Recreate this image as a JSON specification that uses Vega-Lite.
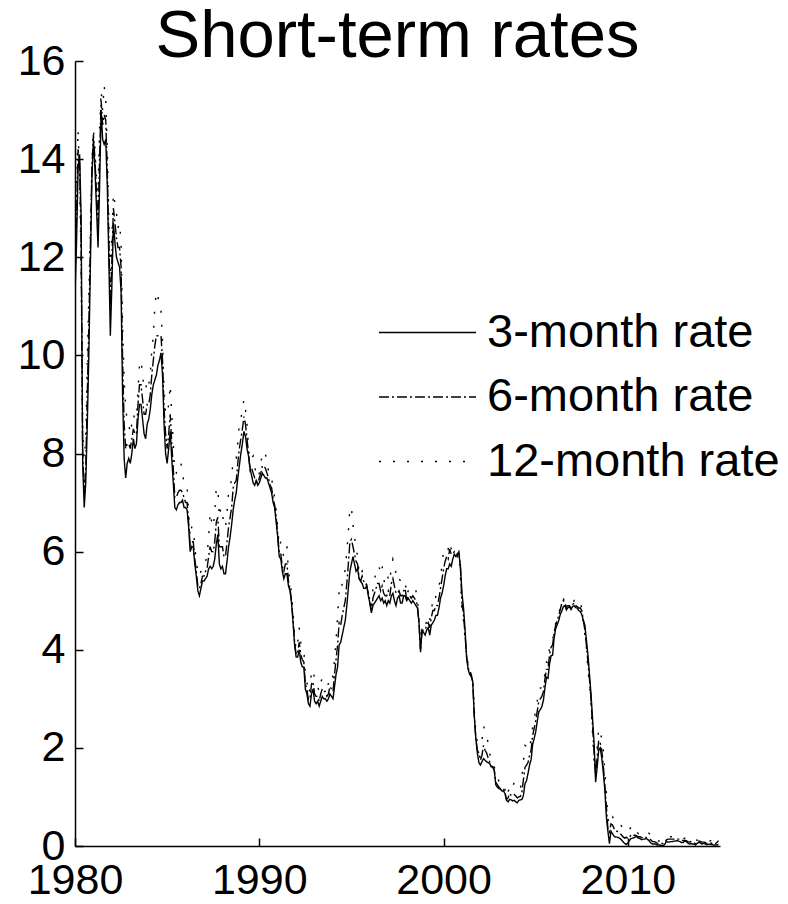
{
  "$schema": "https://vega.github.io/schema/vega-lite/v6.json",
  "width": 645,
  "height": 785,
  "autosize": {"type": "none"},
  "padding": {"left": 75, "top": 61, "right": 68, "bottom": 58},
  "background": "white",
  "title": {"text": "Short-term rates", "font": "Liberation Sans", "fontSize": 67, "fontWeight": "normal", "color": "black", "anchor": "middle", "frame": "group", "offset": -31},
  "config": {
    "view": {"stroke": null},
    "axis": {"domainColor": "black", "domainWidth": 1.5, "tickColor": "black", "tickWidth": 1.5, "tickSize": -8, "grid": false, "labelFont": "Liberation Sans", "labelFontSize": 43, "labelColor": "black", "title": null, "labelFlush": false, "labelOverlap": false}
  },
  "data": {"values": [
{"t":1980.0,"m3":11.2,"m6":11.5,"m12":11.8},{"t":1980.083,"m3":12.3,"m6":12.8,"m12":13.3},{"t":1980.167,"m3":13.8,"m6":14.2,"m12":14.6},{"t":1980.25,"m3":14.1,"m6":13.9,"m12":13.6},{"t":1980.333,"m3":12.8,"m6":12.3,"m12":11.8},{"t":1980.417,"m3":7.8,"m6":8.0,"m12":8.4},{"t":1980.5,"m3":6.9,"m6":7.2,"m12":7.9},{"t":1980.583,"m3":7.4,"m6":7.7,"m12":8.3},{"t":1980.667,"m3":8.6,"m6":9.2,"m12":9.9},{"t":1980.75,"m3":10.0,"m6":10.6,"m12":11.2},{"t":1980.833,"m3":11.8,"m6":12.2,"m12":12.6},{"t":1980.917,"m3":13.6,"m6":13.8,"m12":13.9},
{"t":1981.0,"m3":14.4,"m6":14.5,"m12":14.6},{"t":1981.083,"m3":13.8,"m6":14.0,"m12":14.2},{"t":1981.167,"m3":13.0,"m6":13.3,"m12":13.6},{"t":1981.25,"m3":12.2,"m6":12.7,"m12":13.3},{"t":1981.333,"m3":13.4,"m6":14.0,"m12":14.6},{"t":1981.417,"m3":15.0,"m6":15.2,"m12":15.4},{"t":1981.5,"m3":14.4,"m6":14.7,"m12":15.0},{"t":1981.583,"m3":14.3,"m6":14.9,"m12":15.5},{"t":1981.667,"m3":14.4,"m6":14.8,"m12":15.2},{"t":1981.75,"m3":13.5,"m6":13.8,"m12":14.2},{"t":1981.833,"m3":12.0,"m6":12.4,"m12":12.8},{"t":1981.917,"m3":10.4,"m6":11.0,"m12":11.6},
{"t":1982.0,"m3":11.4,"m6":11.9,"m12":12.4},{"t":1982.083,"m3":12.7,"m6":13.0,"m12":13.3},{"t":1982.167,"m3":12.3,"m6":12.7,"m12":13.1},{"t":1982.25,"m3":12.0,"m6":12.4,"m12":12.9},{"t":1982.333,"m3":11.9,"m6":12.2,"m12":12.6},{"t":1982.417,"m3":11.8,"m6":12.2,"m12":12.7},{"t":1982.5,"m3":11.3,"m6":11.8,"m12":12.3},{"t":1982.583,"m3":9.2,"m6":9.9,"m12":10.6},{"t":1982.667,"m3":7.9,"m6":8.6,"m12":9.5},{"t":1982.75,"m3":7.5,"m6":8.1,"m12":8.9},{"t":1982.833,"m3":7.8,"m6":8.2,"m12":8.7},{"t":1982.917,"m3":7.9,"m6":8.2,"m12":8.6},
{"t":1983.0,"m3":7.8,"m6":8.1,"m12":8.4},{"t":1983.083,"m3":8.0,"m6":8.3,"m12":8.6},{"t":1983.167,"m3":8.3,"m6":8.5,"m12":8.8},{"t":1983.25,"m3":8.1,"m6":8.4,"m12":8.7},{"t":1983.333,"m3":8.2,"m6":8.4,"m12":8.7},{"t":1983.417,"m3":8.7,"m6":9.0,"m12":9.3},{"t":1983.5,"m3":9.0,"m6":9.4,"m12":9.8},{"t":1983.583,"m3":9.0,"m6":9.4,"m12":9.9},{"t":1983.667,"m3":8.7,"m6":9.1,"m12":9.6},{"t":1983.75,"m3":8.4,"m6":8.8,"m12":9.3},{"t":1983.833,"m3":8.3,"m6":8.8,"m12":9.3},{"t":1983.917,"m3":8.6,"m6":9.0,"m12":9.5},
{"t":1984.0,"m3":8.7,"m6":9.0,"m12":9.4},{"t":1984.083,"m3":8.9,"m6":9.2,"m12":9.6},{"t":1984.167,"m3":9.2,"m6":9.6,"m12":10.1},{"t":1984.25,"m3":9.4,"m6":9.9,"m12":10.4},{"t":1984.333,"m3":9.5,"m6":10.2,"m12":11.0},{"t":1984.417,"m3":9.6,"m6":10.4,"m12":11.3},{"t":1984.5,"m3":9.8,"m6":10.4,"m12":11.2},{"t":1984.583,"m3":9.9,"m6":10.4,"m12":11.0},{"t":1984.667,"m3":10.05,"m6":10.4,"m12":10.9},{"t":1984.75,"m3":9.6,"m6":9.9,"m12":10.3},{"t":1984.833,"m3":8.6,"m6":8.9,"m12":9.3},{"t":1984.917,"m3":8.0,"m6":8.4,"m12":8.8},
{"t":1985.0,"m3":7.8,"m6":8.1,"m12":8.8},{"t":1985.083,"m3":8.1,"m6":8.4,"m12":9.0},{"t":1985.167,"m3":8.45,"m6":8.8,"m12":9.4},{"t":1985.25,"m3":7.9,"m6":8.2,"m12":8.8},{"t":1985.333,"m3":7.4,"m6":7.7,"m12":8.2},{"t":1985.417,"m3":6.9,"m6":7.1,"m12":7.6},{"t":1985.5,"m3":6.85,"m6":7.1,"m12":7.6},{"t":1985.583,"m3":6.95,"m6":7.2,"m12":7.8},{"t":1985.667,"m3":7.0,"m6":7.25,"m12":7.8},{"t":1985.75,"m3":7.0,"m6":7.25,"m12":7.8},{"t":1985.833,"m3":7.05,"m6":7.2,"m12":7.6},{"t":1985.917,"m3":6.9,"m6":7.1,"m12":7.4},
{"t":1986.0,"m3":6.9,"m6":7.0,"m12":7.4},{"t":1986.083,"m3":6.85,"m6":7.0,"m12":7.3},{"t":1986.167,"m3":6.5,"m6":6.6,"m12":6.8},{"t":1986.25,"m3":6.0,"m6":6.1,"m12":6.3},{"t":1986.333,"m3":6.1,"m6":6.2,"m12":6.5},{"t":1986.417,"m3":6.1,"m6":6.2,"m12":6.5},{"t":1986.5,"m3":5.75,"m6":5.85,"m12":6.1},{"t":1986.583,"m3":5.5,"m6":5.6,"m12":5.8},{"t":1986.667,"m3":5.2,"m6":5.3,"m12":5.6},{"t":1986.75,"m3":5.1,"m6":5.25,"m12":5.5},{"t":1986.833,"m3":5.25,"m6":5.35,"m12":5.6},{"t":1986.917,"m3":5.4,"m6":5.5,"m12":5.7},
{"t":1987.0,"m3":5.4,"m6":5.5,"m12":5.7},{"t":1987.083,"m3":5.45,"m6":5.6,"m12":5.8},{"t":1987.167,"m3":5.5,"m6":5.65,"m12":5.9},{"t":1987.25,"m3":5.65,"m6":5.9,"m12":6.3},{"t":1987.333,"m3":5.7,"m6":6.1,"m12":6.8},{"t":1987.417,"m3":5.65,"m6":6.0,"m12":6.6},{"t":1987.5,"m3":5.7,"m6":6.0,"m12":6.5},{"t":1987.583,"m3":5.85,"m6":6.2,"m12":6.8},{"t":1987.667,"m3":6.15,"m6":6.6,"m12":7.3},{"t":1987.75,"m3":6.35,"m6":6.7,"m12":7.3},{"t":1987.833,"m3":5.75,"m6":6.1,"m12":6.7},{"t":1987.917,"m3":5.65,"m6":6.1,"m12":6.9},
{"t":1988.0,"m3":5.7,"m6":6.1,"m12":6.8},{"t":1988.083,"m3":5.55,"m6":5.9,"m12":6.5},{"t":1988.167,"m3":5.55,"m6":5.9,"m12":6.5},{"t":1988.25,"m3":5.8,"m6":6.2,"m12":6.8},{"t":1988.333,"m3":6.1,"m6":6.5,"m12":7.2},{"t":1988.417,"m3":6.3,"m6":6.7,"m12":7.3},{"t":1988.5,"m3":6.55,"m6":6.9,"m12":7.5},{"t":1988.583,"m3":6.85,"m6":7.3,"m12":7.9},{"t":1988.667,"m3":7.05,"m6":7.4,"m12":7.9},{"t":1988.75,"m3":7.2,"m6":7.45,"m12":7.9},{"t":1988.833,"m3":7.5,"m6":7.8,"m12":8.2},{"t":1988.917,"m3":7.75,"m6":8.1,"m12":8.6},
{"t":1989.0,"m3":8.0,"m6":8.3,"m12":8.7},{"t":1989.083,"m3":8.2,"m6":8.5,"m12":8.9},{"t":1989.167,"m3":8.45,"m6":8.75,"m12":9.1},{"t":1989.25,"m3":8.35,"m6":8.6,"m12":8.9},{"t":1989.333,"m3":8.1,"m6":8.3,"m12":8.6},{"t":1989.417,"m3":7.95,"m6":8.0,"m12":8.1},{"t":1989.5,"m3":7.7,"m6":7.65,"m12":7.7},{"t":1989.583,"m3":7.55,"m6":7.7,"m12":7.9},{"t":1989.667,"m3":7.4,"m6":7.6,"m12":7.95},{"t":1989.75,"m3":7.35,"m6":7.5,"m12":7.75},{"t":1989.833,"m3":7.45,"m6":7.45,"m12":7.55},{"t":1989.917,"m3":7.35,"m6":7.4,"m12":7.5},
{"t":1990.0,"m3":7.4,"m6":7.5,"m12":7.6},{"t":1990.083,"m3":7.5,"m6":7.6,"m12":7.8},{"t":1990.167,"m3":7.6,"m6":7.75,"m12":8.0},{"t":1990.25,"m3":7.55,"m6":7.75,"m12":8.05},{"t":1990.333,"m3":7.5,"m6":7.7,"m12":8.0},{"t":1990.417,"m3":7.5,"m6":7.6,"m12":7.8},{"t":1990.5,"m3":7.4,"m6":7.5,"m12":7.65},{"t":1990.583,"m3":7.3,"m6":7.35,"m12":7.5},{"t":1990.667,"m3":7.2,"m6":7.3,"m12":7.5},{"t":1990.75,"m3":7.0,"m6":7.1,"m12":7.3},{"t":1990.833,"m3":6.9,"m6":6.95,"m12":7.1},{"t":1990.917,"m3":6.6,"m6":6.7,"m12":6.85},
{"t":1991.0,"m3":6.3,"m6":6.35,"m12":6.5},{"t":1991.083,"m3":5.9,"m6":5.95,"m12":6.1},{"t":1991.167,"m3":5.85,"m6":5.95,"m12":6.2},{"t":1991.25,"m3":5.6,"m6":5.7,"m12":6.0},{"t":1991.333,"m3":5.45,"m6":5.6,"m12":5.9},{"t":1991.417,"m3":5.55,"m6":5.75,"m12":6.1},{"t":1991.5,"m3":5.55,"m6":5.75,"m12":6.1},{"t":1991.583,"m3":5.3,"m6":5.4,"m12":5.6},{"t":1991.667,"m3":5.2,"m6":5.25,"m12":5.4},{"t":1991.75,"m3":4.95,"m6":5.0,"m12":5.15},{"t":1991.833,"m3":4.55,"m6":4.6,"m12":4.75},{"t":1991.917,"m3":4.1,"m6":4.15,"m12":4.25},
{"t":1992.0,"m3":3.85,"m6":3.9,"m12":4.0},{"t":1992.083,"m3":3.85,"m6":3.95,"m12":4.15},{"t":1992.167,"m3":4.0,"m6":4.15,"m12":4.45},{"t":1992.25,"m3":3.75,"m6":3.9,"m12":4.15},{"t":1992.333,"m3":3.65,"m6":3.8,"m12":4.05},{"t":1992.417,"m3":3.65,"m6":3.75,"m12":4.0},{"t":1992.5,"m3":3.2,"m6":3.3,"m12":3.5},{"t":1992.583,"m3":3.1,"m6":3.2,"m12":3.35},{"t":1992.667,"m3":2.9,"m6":2.98,"m12":3.1},{"t":1992.75,"m3":2.85,"m6":3.0,"m12":3.2},{"t":1992.833,"m3":3.1,"m6":3.3,"m12":3.55},{"t":1992.917,"m3":3.2,"m6":3.35,"m12":3.6},
{"t":1993.0,"m3":2.95,"m6":3.1,"m12":3.4},{"t":1993.083,"m3":2.9,"m6":3.05,"m12":3.3},{"t":1993.167,"m3":2.95,"m6":3.05,"m12":3.25},{"t":1993.25,"m3":2.85,"m6":2.95,"m12":3.15},{"t":1993.333,"m3":2.95,"m6":3.1,"m12":3.3},{"t":1993.417,"m3":3.05,"m6":3.2,"m12":3.45},{"t":1993.5,"m3":3.0,"m6":3.15,"m12":3.4},{"t":1993.583,"m3":3.0,"m6":3.15,"m12":3.35},{"t":1993.667,"m3":2.95,"m6":3.05,"m12":3.3},{"t":1993.75,"m3":3.0,"m6":3.1,"m12":3.3},{"t":1993.833,"m3":3.1,"m6":3.25,"m12":3.5},{"t":1993.917,"m3":3.05,"m6":3.2,"m12":3.5},
{"t":1994.0,"m3":3.0,"m6":3.15,"m12":3.45},{"t":1994.083,"m3":3.25,"m6":3.5,"m12":3.8},{"t":1994.167,"m3":3.5,"m6":3.8,"m12":4.2},{"t":1994.25,"m3":3.65,"m6":4.1,"m12":4.7},{"t":1994.333,"m3":4.1,"m6":4.55,"m12":5.2},{"t":1994.417,"m3":4.15,"m6":4.5,"m12":5.15},{"t":1994.5,"m3":4.3,"m6":4.7,"m12":5.35},{"t":1994.583,"m3":4.45,"m6":4.85,"m12":5.45},{"t":1994.667,"m3":4.6,"m6":5.0,"m12":5.65},{"t":1994.75,"m3":4.9,"m6":5.35,"m12":6.0},{"t":1994.833,"m3":5.25,"m6":5.75,"m12":6.4},{"t":1994.917,"m3":5.6,"m6":6.2,"m12":6.9},
{"t":1995.0,"m3":5.75,"m6":6.25,"m12":6.9},{"t":1995.083,"m3":5.9,"m6":6.1,"m12":6.55},{"t":1995.167,"m3":5.75,"m6":5.95,"m12":6.3},{"t":1995.25,"m3":5.6,"m6":5.8,"m12":6.1},{"t":1995.333,"m3":5.65,"m6":5.75,"m12":5.9},{"t":1995.417,"m3":5.45,"m6":5.45,"m12":5.55},{"t":1995.5,"m3":5.4,"m6":5.4,"m12":5.5},{"t":1995.583,"m3":5.35,"m6":5.5,"m12":5.6},{"t":1995.667,"m3":5.25,"m6":5.4,"m12":5.5},{"t":1995.75,"m3":5.25,"m6":5.35,"m12":5.45},{"t":1995.833,"m3":5.3,"m6":5.3,"m12":5.3},{"t":1995.917,"m3":5.1,"m6":5.15,"m12":5.2},
{"t":1996.0,"m3":4.95,"m6":4.95,"m12":5.0},{"t":1996.083,"m3":4.75,"m6":4.8,"m12":4.85},{"t":1996.167,"m3":4.9,"m6":5.05,"m12":5.25},{"t":1996.25,"m3":4.95,"m6":5.15,"m12":5.45},{"t":1996.333,"m3":5.0,"m6":5.25,"m12":5.55},{"t":1996.417,"m3":5.05,"m6":5.35,"m12":5.7},{"t":1996.5,"m3":5.1,"m6":5.35,"m12":5.7},{"t":1996.583,"m3":5.0,"m6":5.2,"m12":5.55},{"t":1996.667,"m3":5.05,"m6":5.3,"m12":5.7},{"t":1996.75,"m3":4.95,"m6":5.15,"m12":5.45},{"t":1996.833,"m3":5.0,"m6":5.1,"m12":5.3},{"t":1996.917,"m3":4.9,"m6":5.1,"m12":5.35},
{"t":1997.0,"m3":5.0,"m6":5.2,"m12":5.5},{"t":1997.083,"m3":4.95,"m6":5.1,"m12":5.4},{"t":1997.167,"m3":5.1,"m6":5.35,"m12":5.7},{"t":1997.25,"m3":5.15,"m6":5.45,"m12":5.85},{"t":1997.333,"m3":5.0,"m6":5.3,"m12":5.75},{"t":1997.417,"m3":4.9,"m6":5.15,"m12":5.55},{"t":1997.5,"m3":5.05,"m6":5.15,"m12":5.4},{"t":1997.583,"m3":5.1,"m6":5.2,"m12":5.45},{"t":1997.667,"m3":4.95,"m6":5.1,"m12":5.4},{"t":1997.75,"m3":4.95,"m6":5.1,"m12":5.35},{"t":1997.833,"m3":5.1,"m6":5.2,"m12":5.35},{"t":1997.917,"m3":5.1,"m6":5.25,"m12":5.4},
{"t":1998.0,"m3":5.0,"m6":5.0,"m12":5.1},{"t":1998.083,"m3":5.05,"m6":5.1,"m12":5.2},{"t":1998.167,"m3":5.0,"m6":5.1,"m12":5.25},{"t":1998.25,"m3":4.95,"m6":5.05,"m12":5.25},{"t":1998.333,"m3":5.0,"m6":5.1,"m12":5.3},{"t":1998.417,"m3":4.95,"m6":5.05,"m12":5.25},{"t":1998.5,"m3":4.9,"m6":5.0,"m12":5.2},{"t":1998.583,"m3":4.85,"m6":4.9,"m12":5.05},{"t":1998.667,"m3":4.55,"m6":4.55,"m12":4.6},{"t":1998.75,"m3":3.95,"m6":4.0,"m12":4.05},{"t":1998.833,"m3":4.4,"m6":4.4,"m12":4.45},{"t":1998.917,"m3":4.35,"m6":4.4,"m12":4.45},
{"t":1999.0,"m3":4.3,"m6":4.4,"m12":4.45},{"t":1999.083,"m3":4.4,"m6":4.5,"m12":4.6},{"t":1999.167,"m3":4.45,"m6":4.55,"m12":4.7},{"t":1999.25,"m3":4.3,"m6":4.45,"m12":4.6},{"t":1999.333,"m3":4.5,"m6":4.65,"m12":4.8},{"t":1999.417,"m3":4.55,"m6":4.8,"m12":5.0},{"t":1999.5,"m3":4.6,"m6":4.8,"m12":4.95},{"t":1999.583,"m3":4.7,"m6":4.9,"m12":5.1},{"t":1999.667,"m3":4.7,"m6":4.9,"m12":5.15},{"t":1999.75,"m3":4.85,"m6":5.05,"m12":5.3},{"t":1999.833,"m3":5.05,"m6":5.25,"m12":5.45},{"t":1999.917,"m3":5.15,"m6":5.45,"m12":5.75},
{"t":2000.0,"m3":5.3,"m6":5.65,"m12":6.0},{"t":2000.083,"m3":5.5,"m6":5.8,"m12":6.1},{"t":2000.167,"m3":5.65,"m6":5.9,"m12":6.1},{"t":2000.25,"m3":5.65,"m6":5.85,"m12":6.05},{"t":2000.333,"m3":5.75,"m6":6.05,"m12":6.2},{"t":2000.417,"m3":5.7,"m6":5.95,"m12":6.05},{"t":2000.5,"m3":5.85,"m6":5.95,"m12":6.0},{"t":2000.583,"m3":5.95,"m6":6.0,"m12":6.05},{"t":2000.667,"m3":5.9,"m6":5.95,"m12":6.0},{"t":2000.75,"m3":5.95,"m6":5.95,"m12":5.9},{"t":2000.833,"m3":5.95,"m6":6.0,"m12":5.95},{"t":2000.917,"m3":5.7,"m6":5.65,"m12":5.5},
{"t":2001.0,"m3":5.15,"m6":4.95,"m12":4.7},{"t":2001.083,"m3":4.85,"m6":4.7,"m12":4.6},{"t":2001.167,"m3":4.4,"m6":4.3,"m12":4.2},{"t":2001.25,"m3":3.85,"m6":3.85,"m12":3.9},{"t":2001.333,"m3":3.6,"m6":3.65,"m12":3.7},{"t":2001.417,"m3":3.5,"m6":3.5,"m12":3.5},{"t":2001.5,"m3":3.45,"m6":3.5,"m12":3.55},{"t":2001.583,"m3":3.35,"m6":3.35,"m12":3.4},{"t":2001.667,"m3":2.65,"m6":2.65,"m12":2.75},{"t":2001.75,"m3":2.2,"m6":2.2,"m12":2.3},{"t":2001.833,"m3":1.9,"m6":1.95,"m12":2.1},{"t":2001.917,"m3":1.7,"m6":1.9,"m12":2.15},
{"t":2002.0,"m3":1.65,"m6":1.75,"m12":2.1},{"t":2002.083,"m3":1.72,"m6":1.85,"m12":2.15},{"t":2002.167,"m3":1.78,"m6":2.05,"m12":2.45},{"t":2002.25,"m3":1.75,"m6":1.95,"m12":2.35},{"t":2002.333,"m3":1.72,"m6":1.9,"m12":2.25},{"t":2002.417,"m3":1.7,"m6":1.8,"m12":2.1},{"t":2002.5,"m3":1.68,"m6":1.72,"m12":1.9},{"t":2002.583,"m3":1.62,"m6":1.62,"m12":1.72},{"t":2002.667,"m3":1.62,"m6":1.6,"m12":1.7},{"t":2002.75,"m3":1.55,"m6":1.55,"m12":1.62},{"t":2002.833,"m3":1.25,"m6":1.3,"m12":1.45},{"t":2002.917,"m3":1.2,"m6":1.25,"m12":1.42},
{"t":2003.0,"m3":1.17,"m6":1.2,"m12":1.32},{"t":2003.083,"m3":1.16,"m6":1.17,"m12":1.27},{"t":2003.167,"m3":1.12,"m6":1.12,"m12":1.2},{"t":2003.25,"m3":1.12,"m6":1.15,"m12":1.23},{"t":2003.333,"m3":1.07,"m6":1.08,"m12":1.15},{"t":2003.417,"m3":0.93,"m6":0.95,"m12":1.0},{"t":2003.5,"m3":0.9,"m6":0.98,"m12":1.08},{"t":2003.583,"m3":0.95,"m6":1.07,"m12":1.25},{"t":2003.667,"m3":0.94,"m6":1.03,"m12":1.2},{"t":2003.75,"m3":0.92,"m6":1.02,"m12":1.2},{"t":2003.833,"m3":0.93,"m6":1.05,"m12":1.3},{"t":2003.917,"m3":0.9,"m6":1.02,"m12":1.27},
{"t":2004.0,"m3":0.88,"m6":0.98,"m12":1.2},{"t":2004.083,"m3":0.93,"m6":1.0,"m12":1.2},{"t":2004.167,"m3":0.94,"m6":1.01,"m12":1.16},{"t":2004.25,"m3":0.95,"m6":1.1,"m12":1.4},{"t":2004.333,"m3":1.03,"m6":1.35,"m12":1.72},{"t":2004.417,"m3":1.27,"m6":1.6,"m12":2.05},{"t":2004.5,"m3":1.33,"m6":1.65,"m12":2.03},{"t":2004.583,"m3":1.48,"m6":1.7,"m12":1.95},{"t":2004.667,"m3":1.65,"m6":1.85,"m12":2.05},{"t":2004.75,"m3":1.76,"m6":1.95,"m12":2.15},{"t":2004.833,"m3":2.07,"m6":2.25,"m12":2.42},{"t":2004.917,"m3":2.19,"m6":2.4,"m12":2.58},
{"t":2005.0,"m3":2.33,"m6":2.55,"m12":2.78},{"t":2005.083,"m3":2.54,"m6":2.75,"m12":2.95},{"t":2005.167,"m3":2.74,"m6":2.95,"m12":3.2},{"t":2005.25,"m3":2.78,"m6":3.0,"m12":3.22},{"t":2005.333,"m3":2.84,"m6":3.05,"m12":3.23},{"t":2005.417,"m3":2.97,"m6":3.15,"m12":3.27},{"t":2005.5,"m3":3.22,"m6":3.4,"m12":3.53},{"t":2005.583,"m3":3.44,"m6":3.6,"m12":3.75},{"t":2005.667,"m3":3.42,"m6":3.6,"m12":3.73},{"t":2005.75,"m3":3.71,"m6":3.9,"m12":4.05},{"t":2005.833,"m3":3.88,"m6":4.05,"m12":4.2},{"t":2005.917,"m3":3.89,"m6":4.1,"m12":4.22},
{"t":2006.0,"m3":4.24,"m6":4.35,"m12":4.32},{"t":2006.083,"m3":4.43,"m6":4.5,"m12":4.54},{"t":2006.167,"m3":4.51,"m6":4.6,"m12":4.63},{"t":2006.25,"m3":4.6,"m6":4.7,"m12":4.75},{"t":2006.333,"m3":4.72,"m6":4.82,"m12":4.85},{"t":2006.417,"m3":4.79,"m6":4.95,"m12":5.0},{"t":2006.5,"m3":4.88,"m6":5.0,"m12":5.05},{"t":2006.583,"m3":4.9,"m6":4.95,"m12":4.93},{"t":2006.667,"m3":4.81,"m6":4.87,"m12":4.83},{"t":2006.75,"m3":4.86,"m6":4.9,"m12":4.87},{"t":2006.833,"m3":4.87,"m6":4.9,"m12":4.87},{"t":2006.917,"m3":4.82,"m6":4.85,"m12":4.8},
{"t":2007.0,"m3":4.88,"m6":4.92,"m12":4.95},{"t":2007.083,"m3":4.9,"m6":4.95,"m12":5.0},{"t":2007.167,"m3":4.86,"m6":4.9,"m12":4.92},{"t":2007.25,"m3":4.85,"m6":4.88,"m12":4.9},{"t":2007.333,"m3":4.8,"m6":4.85,"m12":4.9},{"t":2007.417,"m3":4.78,"m6":4.85,"m12":4.95},{"t":2007.5,"m3":4.72,"m6":4.8,"m12":4.85},{"t":2007.583,"m3":4.6,"m6":4.6,"m12":4.55},{"t":2007.667,"m3":4.5,"m6":4.4,"m12":4.3},{"t":2007.75,"m3":4.2,"m6":4.1,"m12":4.05},{"t":2007.833,"m3":3.9,"m6":3.75,"m12":3.6},{"t":2007.917,"m3":3.5,"m6":3.4,"m12":3.3},
{"t":2008.0,"m3":3.1,"m6":3.0,"m12":2.85},{"t":2008.083,"m3":2.6,"m6":2.45,"m12":2.3},{"t":2008.167,"m3":2.1,"m6":1.9,"m12":1.7},{"t":2008.25,"m3":1.3,"m6":1.45,"m12":1.6},{"t":2008.333,"m3":1.6,"m6":1.8,"m12":2.0},{"t":2008.417,"m3":1.95,"m6":2.15,"m12":2.4},{"t":2008.5,"m3":2.0,"m6":2.1,"m12":2.3},{"t":2008.583,"m3":1.8,"m6":1.95,"m12":2.2},{"t":2008.667,"m3":1.5,"m6":1.65,"m12":1.95},{"t":2008.75,"m3":1.15,"m6":1.25,"m12":1.5},{"t":2008.833,"m3":0.6,"m6":0.8,"m12":1.1},{"t":2008.917,"m3":0.3,"m6":0.35,"m12":0.55},
{"t":2009.0,"m3":0.05,"m6":0.28,"m12":0.45},{"t":2009.083,"m3":0.3,"m6":0.45,"m12":0.6},{"t":2009.167,"m3":0.25,"m6":0.43,"m12":0.6},{"t":2009.25,"m3":0.2,"m6":0.36,"m12":0.52},{"t":2009.333,"m3":0.18,"m6":0.3,"m12":0.48},{"t":2009.417,"m3":0.18,"m6":0.3,"m12":0.5},{"t":2009.5,"m3":0.17,"m6":0.28,"m12":0.47},{"t":2009.583,"m3":0.15,"m6":0.26,"m12":0.45},{"t":2009.667,"m3":0.12,"m6":0.22,"m12":0.4},{"t":2009.75,"m3":0.08,"m6":0.18,"m12":0.36},{"t":2009.833,"m3":0.05,"m6":0.16,"m12":0.3},{"t":2009.917,"m3":0.03,"m6":0.18,"m12":0.35},
{"t":2010.0,"m3":0.06,"m6":0.15,"m12":0.33},{"t":2010.083,"m3":0.11,"m6":0.18,"m12":0.34},{"t":2010.167,"m3":0.15,"m6":0.22,"m12":0.38},{"t":2010.25,"m3":0.16,"m6":0.24,"m12":0.43},{"t":2010.333,"m3":0.17,"m6":0.22,"m12":0.36},{"t":2010.417,"m3":0.19,"m6":0.22,"m12":0.31},{"t":2010.5,"m3":0.18,"m6":0.2,"m12":0.28},{"t":2010.583,"m3":0.16,"m6":0.19,"m12":0.25},{"t":2010.667,"m3":0.15,"m6":0.19,"m12":0.25},{"t":2010.75,"m3":0.13,"m6":0.17,"m12":0.22},{"t":2010.833,"m3":0.14,"m6":0.17,"m12":0.24},{"t":2010.917,"m3":0.14,"m6":0.19,"m12":0.28},
{"t":2011.0,"m3":0.15,"m6":0.17,"m12":0.27},{"t":2011.083,"m3":0.13,"m6":0.16,"m12":0.28},{"t":2011.167,"m3":0.1,"m6":0.15,"m12":0.25},{"t":2011.25,"m3":0.06,"m6":0.12,"m12":0.24},{"t":2011.333,"m3":0.04,"m6":0.09,"m12":0.19},{"t":2011.417,"m3":0.04,"m6":0.09,"m12":0.18},{"t":2011.5,"m3":0.04,"m6":0.08,"m12":0.19},{"t":2011.583,"m3":0.02,"m6":0.06,"m12":0.11},{"t":2011.667,"m3":0.02,"m6":0.05,"m12":0.1},{"t":2011.75,"m3":0.02,"m6":0.05,"m12":0.11},{"t":2011.833,"m3":0.01,"m6":0.05,"m12":0.11},{"t":2011.917,"m3":0.01,"m6":0.05,"m12":0.12},
{"t":2012.0,"m3":0.03,"m6":0.07,"m12":0.12},{"t":2012.083,"m3":0.09,"m6":0.12,"m12":0.16},{"t":2012.167,"m3":0.08,"m6":0.14,"m12":0.19},{"t":2012.25,"m3":0.08,"m6":0.14,"m12":0.18},{"t":2012.333,"m3":0.09,"m6":0.14,"m12":0.19},{"t":2012.417,"m3":0.09,"m6":0.14,"m12":0.19},{"t":2012.5,"m3":0.1,"m6":0.14,"m12":0.19},{"t":2012.583,"m3":0.1,"m6":0.13,"m12":0.18},{"t":2012.667,"m3":0.11,"m6":0.14,"m12":0.18},{"t":2012.75,"m3":0.1,"m6":0.14,"m12":0.18},{"t":2012.833,"m3":0.09,"m6":0.14,"m12":0.18},{"t":2012.917,"m3":0.07,"m6":0.12,"m12":0.16},
{"t":2013.0,"m3":0.07,"m6":0.11,"m12":0.15},{"t":2013.083,"m3":0.1,"m6":0.12,"m12":0.16},{"t":2013.167,"m3":0.09,"m6":0.11,"m12":0.15},{"t":2013.25,"m3":0.06,"m6":0.09,"m12":0.12},{"t":2013.333,"m3":0.04,"m6":0.08,"m12":0.12},{"t":2013.417,"m3":0.05,"m6":0.09,"m12":0.14},{"t":2013.5,"m3":0.04,"m6":0.08,"m12":0.12},{"t":2013.583,"m3":0.04,"m6":0.07,"m12":0.13},{"t":2013.667,"m3":0.02,"m6":0.05,"m12":0.12},{"t":2013.75,"m3":0.05,"m6":0.08,"m12":0.12},{"t":2013.833,"m3":0.07,"m6":0.1,"m12":0.12},{"t":2013.917,"m3":0.07,"m6":0.1,"m12":0.13},
{"t":2014.0,"m3":0.04,"m6":0.08,"m12":0.12},{"t":2014.083,"m3":0.05,"m6":0.08,"m12":0.12},{"t":2014.167,"m3":0.05,"m6":0.08,"m12":0.13},{"t":2014.25,"m3":0.03,"m6":0.06,"m12":0.11},{"t":2014.333,"m3":0.03,"m6":0.05,"m12":0.1},{"t":2014.417,"m3":0.04,"m6":0.06,"m12":0.1},{"t":2014.5,"m3":0.03,"m6":0.06,"m12":0.11},{"t":2014.583,"m3":0.03,"m6":0.05,"m12":0.11},{"t":2014.667,"m3":0.02,"m6":0.04,"m12":0.11},{"t":2014.75,"m3":0.02,"m6":0.05,"m12":0.1},{"t":2014.833,"m3":0.02,"m6":0.07,"m12":0.13},{"t":2014.917,"m3":0.03,"m6":0.11,"m12":0.21}
  ]},
  "transform": [{"fold": ["m3", "m6", "m12"], "as": ["series", "rate"]}],
  "mark": {"type": "line", "color": "black", "strokeWidth": 1.4, "clip": true},
  "encoding": {
    "x": {"field": "t", "type": "quantitative", "scale": {"domain": [1980, 2015], "nice": false, "zero": false},
      "axis": {"values": [1980, 1990, 2000, 2010], "format": "d", "labelPadding": 21, "labelAlign": "center"}},
    "y": {"field": "rate", "type": "quantitative", "scale": {"domain": [0, 16], "nice": false},
      "axis": {"values": [0, 2, 4, 6, 8, 10, 12, 14, 16], "labelPadding": 18}},
    "strokeDash": {"field": "series", "type": "nominal",
      "scale": {"domain": ["m3", "m6", "m12"], "range": [[1, 0], [10, 3, 2, 3], [2, 12]]},
      "legend": {"orient": "none", "legendX": 303, "legendY": 250, "title": null, "symbolType": "stroke", "symbolSize": 9409, "symbolStrokeColor": "black", "symbolStrokeWidth": 1.5, "clipHeight": 43, "rowPadding": 16.5, "padding": 0, "labelFont": "Liberation Sans", "labelFontSize": 47, "labelColor": "black", "labelOffset": 10, "labelLimit": 600,
        "labelExpr": "datum.value == 'm3' ? '3-month rate' : datum.value == 'm6' ? '6-month rate' : '12-month rate'"}}
  }
}
